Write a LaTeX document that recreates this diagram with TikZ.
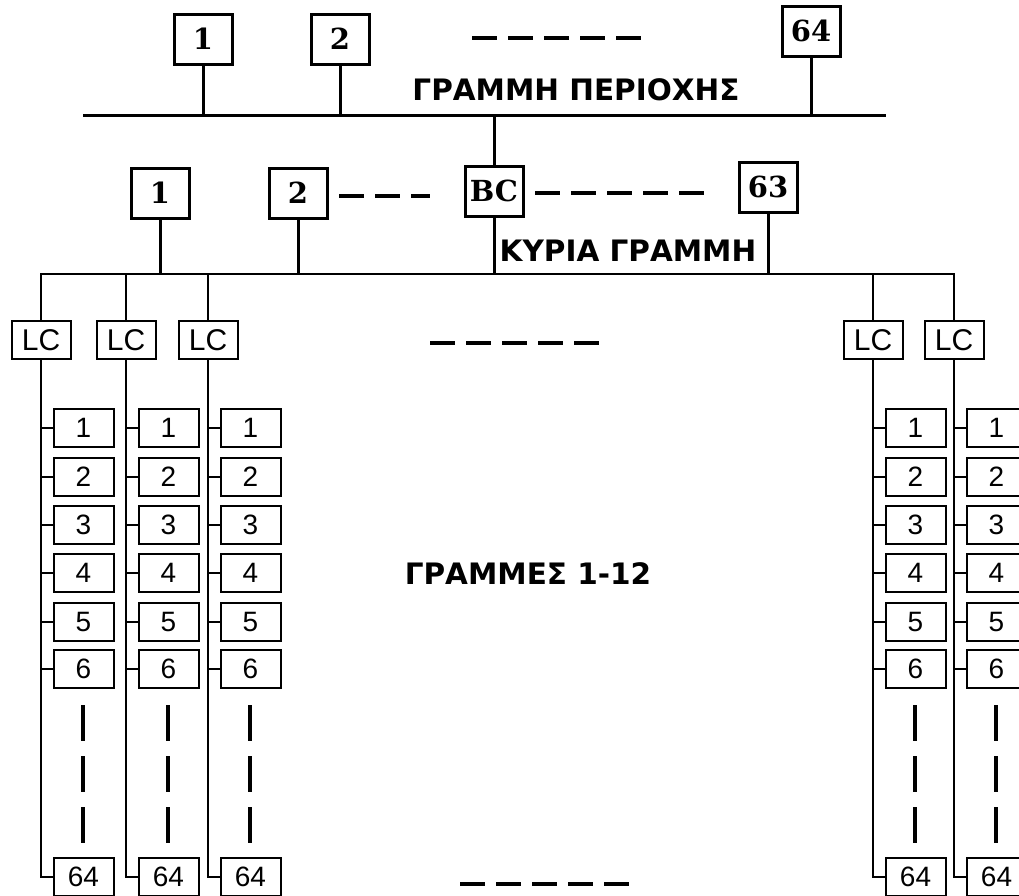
\documentclass[tikz,border=0pt]{standalone}
\usepackage{fontspec}
\newfontfamily\lblfont{DejaVu Sans}
\newfontfamily\serfont{DejaVu Serif}
\newfontfamily\arfont{Liberation Sans}
\begin{document}
\begin{tikzpicture}[x=1pt,y=-1pt,
  topbox/.style={draw,line width=3pt,inner sep=0pt,minimum width=58pt,minimum height=50pt,font=\serfont\bfseries\fontsize{29}{29}\selectfont},
  lcbox/.style={draw,line width=2pt,inner sep=0pt,minimum width=59pt,minimum height=38pt,font=\arfont\fontsize{30}{30}\selectfont},
  devbox/.style={draw,line width=2pt,inner sep=0pt,minimum width=60pt,minimum height=38pt,font=\arfont\fontsize{28}{28}\selectfont},
  thick line/.style={line width=3pt},
  thin line/.style={line width=2.2pt},
  hdash/.style={line width=3.5pt,dash pattern=on 25pt off 11pt},
  vdash/.style={line width=3.5pt,dash pattern=on 36pt off 15pt},
  lbl/.style={font=\lblfont\bfseries\fontsize{29.5}{29.5}\selectfont,inner sep=0pt}]
\clip (0,0) rectangle (1019,895);
\useasboundingbox (0,0) rectangle (1019,895);
\fill[white] (0,0) rectangle (1019,895);

% area line
\coordinate (aL) at (83,115);
\coordinate (aR) at (886,115);
\draw[thick line] (aL) -- (aR);
\node[topbox] (t1) at (203,39) {1};
\node[topbox] (t2) at (340,39) {2};
\node[topbox] (t64) at (811,31) {64};
\foreach \n in {t1,t2,t64} \draw[thick line] (\n.south) -- (\n.south |- aL);
\coordinate (td1) at (472,38);
\coordinate (td2) at (642,38);
\draw[hdash] (td1) -- (td2);
\node[lbl] (areaLbl) at (576,90) {ΓΡΑΜΜΗ ΠΕΡΙΟΧΗΣ};

% main line
\coordinate (mainY) at (0,274);
\node[topbox] (m1) at (160,193) {1};
\node[topbox] (m2) at (298,193) {2};
\node[topbox] (bc) at (494,191) {BC};
\node[topbox] (m63) at (768,187) {63};
\draw[thick line] (bc.north) -- (bc.north |- aL);
\foreach \n in {m1,m2,bc,m63} \draw[thick line] (\n.south) -- (\n.south |- mainY);
\coordinate (md1) at (339,196);
\coordinate (md2) at (430,196);
\coordinate (md3) at (535,193);
\coordinate (md4) at (705,193);
\draw[hdash] (md1) -- (md2);
\draw[hdash] (md3) -- (md4);
\node[lbl] (mainLbl) at (628,251) {ΚΥΡΙΑ ΓΡΑΜΜΗ};

% line couplers
\foreach \nm/\x in {L1/40,L2/125,L3/207,R1/872,R2/953}{
  \node[lcbox] (lc\nm) at (\x+1,340) {LC};
}
\draw[thin line] (lcL1.north) -- (lcL1.north |- mainY) -- (lcR2.north |- mainY) -- (lcR2.north);
\foreach \nm in {L2,L3,R1} \draw[thin line] (lc\nm.north) -- (lc\nm.north |- mainY);

% devices
\foreach \nm/\x in {L1/40,L2/125,L3/207,R1/872,R2/953}{
  \foreach \k/\y in {1/428,2/477,3/525,4/573,5/622,6/669}{
    \node[devbox] (d\nm\k) at (\x+43.5,\y) {\k};
    \draw[thin line] (d\nm\k.west) -- (d\nm\k.west -| lc\nm.south);
  }
  \node[devbox] (d\nm64) at (\x+43.5,877) {64};
  \draw[thin line] (lc\nm.south) |- (d\nm64.west);
  \coordinate (vd\nm a) at (\x+43,705);
  \coordinate (vd\nm b) at (\x+43,843);
  \draw[vdash] (vd\nm a) -- (vd\nm b);
}

\coordinate (cd1) at (430,343);
\coordinate (cd2) at (602,343);
\draw[hdash] (cd1) -- (cd2);
\coordinate (bd1) at (460,884);
\coordinate (bd2) at (632,884);
\draw[hdash] (bd1) -- (bd2);
\node[lbl] (linesLbl) at (528,574) {ΓΡΑΜΜΕΣ 1-12};
\end{tikzpicture}
\end{document}
